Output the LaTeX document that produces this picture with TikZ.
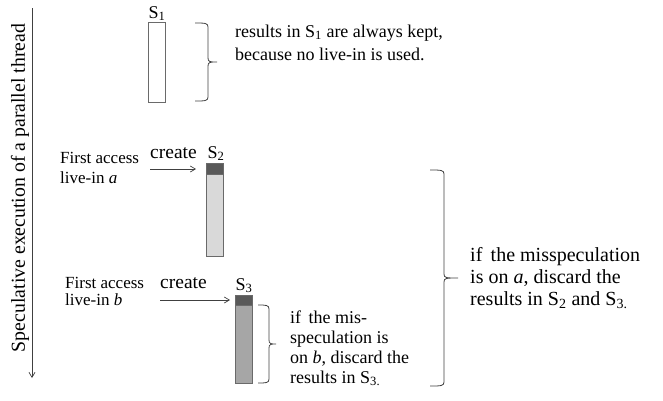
\documentclass[tikz,border=0pt]{standalone}
\usepackage{fontspec}
\setmainfont{Liberation Serif}
\usetikzlibrary{arrows.meta}
\definecolor{boxgray}{HTML}{6A6A6A}
\definecolor{darkfill}{HTML}{595959}
\definecolor{lightfill}{HTML}{D9D9D9}
\definecolor{midfill}{HTML}{A6A6A6}
\definecolor{linegray}{HTML}{404040}
\newcommand{\mybrace}[5]{% x-start, x-vertical, y-top, y-bottom, x-tip
  \draw[bracestyle] (#1,#3) .. controls (#2-3,#3) and (#2,#3) .. (#2,#3+4)
    -- (#2,{(#3+#4)/2-4}) .. controls (#2,{(#3+#4)/2}) and (#2+2,{(#3+#4)/2}) .. (#5,{(#3+#4)/2})
    .. controls (#2+2,{(#3+#4)/2}) and (#2,{(#3+#4)/2}) .. (#2,{(#3+#4)/2+4})
    -- (#2,#4-4) .. controls (#2,#4) and (#2-3,#4) .. (#1,#4);}
\begin{document}
\begin{tikzpicture}[x=1pt,y=-1pt,
  box/.style={draw=boxgray, line width=0.8pt, inner sep=0pt, outer sep=0pt, anchor=north west, minimum width=17pt},
  txt/.style={inner sep=0pt, anchor=base west, font=\fontsize{18}{21}\selectfont},
  bigtxt/.style={inner sep=0pt, anchor=base west, font=\fontsize{20}{22}\selectfont},
  crt/.style={inner sep=0pt, anchor=base west, font=\fontsize{19.5}{22}\selectfont},
  small/.style={inner sep=0pt, anchor=base west, font=\fontsize{17}{20}\selectfont},
  lbl/.style={inner sep=0pt, anchor=base, font=\fontsize{18}{21}\selectfont},
  arr/.style={draw=linegray, line width=0.7pt, -{Straight Barb[length=5pt,width=6pt]}},
  bracestyle/.style={draw=linegray, line width=0.8pt}]
\useasboundingbox (0,0) rectangle (663,400);

% time axis
\coordinate (axtop) at (32,8);
\coordinate (axbot) at (32,378);
\draw[arr] (axtop) -- (axbot);
\node[inner sep=0pt, rotate=90, font=\fontsize{19.8}{22}\selectfont] (axlabel) at (20,188) {Speculative execution of a parallel thread};

% S1
\node[box, minimum height=80pt, fill=white] (s1) at (148,22) {};
\node[lbl] (s1l) at (157,18) {S\textsubscript{1}};
\mybrace{195}{208}{23}{101}{217}
\node[txt] (t1a) at (235,37) {results in S\textsubscript{1} are always kept,};
\node[txt] (t1b) at (235,60) {because no live-in is used.};

% S2
\node[box, minimum height=11pt, fill=darkfill] (s2d) at (206,163) {};
\node[box, minimum height=82pt, fill=lightfill] (s2) at (206,174) {};
\node[lbl] (s2l) at (216,158) {S\textsubscript{2}};
\node[small] (f2a) at (60,163) {First access};
\node[small] (f2b) at (60,183) {live-in \textit{a}};
\node[crt] (c2) at (150,158) {create};
\coordinate (a2) at (150,169);
\draw[arr, shorten >=10pt] (a2) -- (a2 -| s2d.west);

% S3
\node[box, minimum height=10pt, fill=darkfill] (s3d) at (235,295) {};
\node[box, minimum height=78pt, fill=midfill] (s3) at (235,305) {};
\node[lbl] (s3l) at (244,290) {S\textsubscript{3}};
\node[small] (f3a) at (65,288) {First access};
\node[small] (f3b) at (65,305) {live-in \textit{b}};
\node[crt] (c3) at (160,288) {create};
\coordinate (a3) at (160,300);
\draw[arr, shorten >=5pt] (a3) -- (a3 -| s3d.west);

% small brace
\mybrace{258}{269}{305}{383}{276}
\node[txt] (t3a) at (290,323) {if\, the mis-};
\node[txt] (t3b) at (290,343) {speculation is};
\node[txt] (t3c) at (290,363) {on \textit{b}, discard the};
\node[txt] (t3d) at (290,383) {results in S\textsubscript{3.}};

% big brace
\mybrace{430}{444}{170}{386}{458}
\node[bigtxt] (t4a) at (470,261) {if\, the misspeculation};
\node[bigtxt] (t4b) at (470,283) {is on \textit{a}, discard the};
\node[bigtxt] (t4c) at (470,305) {results in S\textsubscript{2} and S\textsubscript{3.}};
\end{tikzpicture}
\end{document}
